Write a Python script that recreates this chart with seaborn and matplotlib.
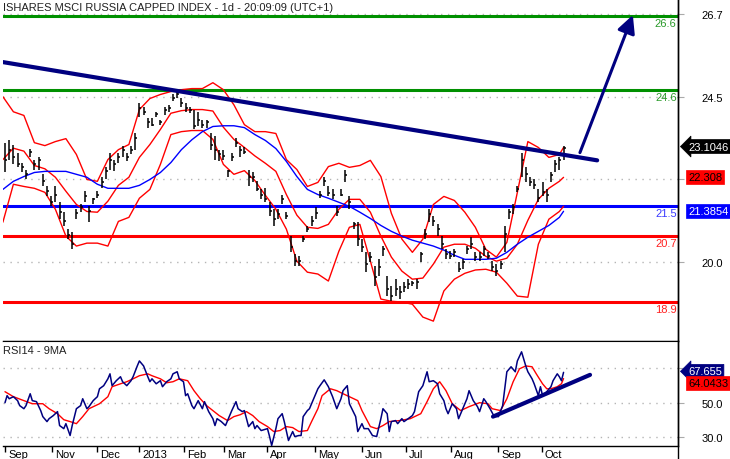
import numpy as np
import pandas as pd
import matplotlib
matplotlib.use("Agg")
import matplotlib.pyplot as plt
import matplotlib.transforms as mtransforms
from matplotlib.lines import Line2D
import seaborn as sns

# ---------------- data ----------------
title = "ISHARES MSCI RUSSIA CAPPED INDEX - 1d - 20:09:09 (UTC+1)"

bar_day = list(range(0, 268, 2))
bar_high = [23.25, 23.33, 23.20, 22.98, 22.71, 22.52, 23.09, 22.79, 22.85, 22.39,
            22.06, 21.79, 22.06, 21.63, 21.36, 20.90, 20.81, 21.44, 21.57, 21.93,
            21.52, 21.76, 21.93, 22.31, 22.60, 22.98, 22.79, 22.98, 23.15, 22.98,
            23.15, 23.52, 24.34, 24.23, 23.93, 23.93, 24.09, 23.88, 24.23, 24.28,
            24.56, 24.64, 24.47, 24.34, 24.23, 24.15, 24.09, 23.88, 23.88, 23.52,
            23.42, 23.06, 23.06, 22.52, 22.98, 23.39, 23.15, 23.12, 22.52, 22.44,
            22.20, 21.98, 22.03, 21.63, 21.44, 21.44, 21.84, 21.36, 20.71, 20.22,
            20.16, 20.71, 20.98, 21.25, 21.49, 21.93, 22.33, 22.06, 21.98, 21.52,
            21.98, 22.52, 21.79, 21.09, 21.09, 20.62, 20.27, 20.27, 19.89, 20.08,
            20.43, 19.62, 19.35, 19.54, 19.35, 19.46, 19.54, 19.49, 19.54, 20.27,
            20.90, 21.44, 21.25, 21.03, 20.71, 20.35, 20.30, 20.35, 20.00, 20.08,
            20.43, 20.68, 20.27, 20.27, 20.43, 20.27, 20.03, 19.95, 20.03, 20.98,
            21.44, 21.57, 22.06, 22.98, 22.60, 22.31, 22.25, 21.98, 22.17, 21.98,
            22.44, 22.79, 22.87, 23.15]
bar_low = [22.44, 22.79, 22.66, 22.58, 22.44, 22.25, 22.87, 22.52, 22.52, 22.06,
           21.79, 21.52, 21.63, 21.17, 20.98, 20.62, 20.35, 21.17, 21.36, 21.63,
           21.09, 21.57, 21.76, 22.03, 22.25, 22.52, 22.47, 22.71, 22.87, 22.74,
           22.93, 23.06, 23.96, 24.01, 23.66, 23.69, 23.96, 23.74, 24.01, 24.09,
           24.37, 24.47, 24.23, 24.09, 24.07, 23.61, 23.69, 23.66, 23.66, 23.06,
           22.79, 22.74, 22.79, 22.31, 22.74, 23.12, 22.87, 22.93, 22.06, 22.17,
           21.93, 21.71, 21.65, 21.25, 20.98, 21.17, 21.57, 21.17, 20.27, 19.89,
           19.89, 20.54, 20.81, 20.98, 21.17, 21.76, 22.06, 21.79, 21.71, 21.25,
           21.79, 22.17, 21.44, 20.90, 20.44, 20.27, 19.73, 20.00, 19.35, 19.62,
           20.16, 19.08, 18.94, 19.08, 19.00, 19.19, 19.27, 19.35, 19.27, 20.00,
           20.62, 21.09, 20.98, 20.71, 20.35, 20.08, 20.08, 20.14, 19.73, 19.81,
           20.22, 20.35, 20.03, 20.03, 20.16, 20.08, 19.76, 19.62, 19.81, 20.27,
           21.17, 21.30, 21.90, 22.33, 22.17, 22.06, 21.98, 21.63, 21.79, 21.65,
           22.17, 22.44, 22.52, 22.79]
bar_close = [22.79, 23.06, 22.85, 22.66, 22.58, 22.39, 23.01, 22.66, 22.79, 22.20,
             21.93, 21.63, 21.84, 21.36, 21.11, 20.73, 20.49, 21.33, 21.49, 21.79,
             21.38, 21.71, 21.84, 22.17, 22.47, 22.79, 22.66, 22.85, 23.06, 22.87,
             23.06, 23.39, 24.20, 24.09, 23.82, 23.74, 24.04, 23.82, 24.15, 24.20,
             24.47, 24.56, 24.34, 24.20, 24.15, 23.69, 23.88, 23.74, 23.82, 23.20,
             23.06, 22.93, 22.90, 22.47, 22.85, 23.25, 23.06, 23.01, 22.31, 22.31,
             21.98, 21.82, 21.71, 21.38, 21.17, 21.30, 21.71, 21.25, 20.41, 20.03,
             20.03, 20.62, 20.90, 21.11, 21.33, 21.84, 22.20, 21.87, 21.82, 21.36,
             21.84, 22.36, 21.63, 21.03, 20.62, 20.41, 19.95, 20.14, 19.60, 19.87,
             20.35, 19.27, 19.08, 19.27, 19.19, 19.33, 19.41, 19.43, 19.46, 20.22,
             20.76, 21.30, 21.11, 20.90, 20.49, 20.22, 20.16, 20.27, 19.81, 20.00,
             20.35, 20.49, 20.14, 20.14, 20.35, 20.16, 19.87, 19.76, 19.95, 20.76,
             21.36, 21.49, 21.98, 22.79, 22.39, 22.17, 22.11, 21.76, 21.90, 21.84,
             22.36, 22.66, 22.79, 23.1046]

band_day = list(range(-1, 265, 5)) + [266]
band_upper = [24.50, 24.09, 23.99, 23.25, 23.17, 23.28, 23.36, 22.93, 22.25, 22.20,
              22.79, 23.06, 23.20, 24.15, 24.45, 24.56, 24.64, 24.69, 24.72, 24.72,
              24.88, 24.69, 24.28, 23.74, 23.55, 23.55, 23.50, 22.79, 22.52, 22.06,
              22.17, 22.60, 22.69, 22.58, 22.63, 22.77, 22.33, 21.33, 20.63, 20.27,
              20.63, 21.57, 21.79, 21.68, 21.36, 20.95, 20.35, 20.14, 20.54, 21.90,
              23.28, 23.12, 22.85, 22.93, 23.12]
band_mid = [22.79, 23.10, 23.02, 22.63, 22.54, 22.31, 21.93, 21.57, 21.38, 21.36,
            21.66, 22.09, 22.31, 22.85, 23.20, 23.61, 24.05, 24.12, 24.15, 24.15,
            24.11, 23.67, 23.34, 23.12, 22.89, 22.69, 22.47, 21.84, 21.28, 20.95,
            20.92, 21.03, 21.44, 21.71, 21.71, 21.36, 20.71, 20.14, 19.76, 19.54,
            19.57, 19.95, 20.41, 20.49, 20.49, 20.38, 20.16, 20.03, 20.11, 20.49,
            21.14, 21.71, 22.01, 22.20, 22.308]
band_lower = [21.09, 22.12, 22.06, 22.01, 21.90, 21.44, 20.71, 20.44, 20.52, 20.52,
              20.44, 21.11, 21.22, 21.74, 21.98, 22.66, 23.47, 23.55, 23.58, 23.58,
              23.34, 22.66, 22.39, 22.49, 22.22, 21.82, 21.44, 20.90, 20.03, 19.73,
              19.68, 19.49, 20.30, 20.95, 21.03, 20.03, 19.00, 18.94, 18.92, 18.86,
              18.51, 18.40, 19.22, 19.54, 19.70, 19.79, 19.81, 19.73, 19.43, 19.08,
              19.05, 20.49, 21.17, 21.38, 21.52]
ma_blue = [21.98, 22.20, 22.33, 22.44, 22.47, 22.47, 22.47, 22.39, 22.31, 22.12,
           22.01, 22.01, 22.01, 22.09, 22.25, 22.44, 22.71, 23.06, 23.33, 23.55,
           23.69, 23.71, 23.71, 23.66, 23.47, 23.31, 23.09, 22.74, 22.33, 21.98,
           21.84, 21.74, 21.63, 21.52, 21.36, 21.19, 21.00, 20.84, 20.71, 20.60,
           20.52, 20.44, 20.33, 20.19, 20.08, 20.08, 20.08, 20.11, 20.27, 20.49,
           20.68, 20.84, 21.00, 21.22, 21.3854]

rsi_day = [0, 1, 2, 4, 6, 7, 9, 10, 12, 13, 15, 17, 18, 20, 21, 23, 25, 26, 28, 29,
           31, 32, 34, 36, 37, 39, 40, 42, 44, 45, 47, 49, 50, 51, 53, 55, 56, 58, 60, 61,
           63, 64, 66, 68, 69, 70, 72, 74, 75, 77, 79, 80, 82, 83, 85, 86, 87, 89, 90, 92,
           94, 95, 97, 99, 100, 101, 103, 105, 106, 108, 110, 111, 113, 114, 116, 118, 119, 120, 122, 125,
           126, 127, 129, 130, 132, 133, 135, 137, 138, 140, 141, 142, 144, 145, 147, 149, 150, 152, 154, 156,
           158, 160, 161, 163, 164, 167, 168, 170, 171, 173, 175, 177, 179, 180, 182, 183, 184, 186, 187, 189,
           190, 192, 194, 195, 197, 199, 200, 201, 202, 204, 206, 207, 209, 210, 211, 213, 215, 216, 218, 220,
           221, 223, 225, 226, 228, 229, 231, 233, 235, 237, 238, 239, 241, 243, 244, 246, 248, 249, 251, 252,
           254, 255, 256, 258, 260, 261, 263, 264, 265, 266]
rsi_val = [50.0, 54.1, 52.3, 53.5, 51.2, 48.3, 46.5, 48.3, 55.2, 51.2, 50.6, 45.4, 41.9, 39.0, 40.7, 42.5, 44.8, 36.7, 34.9, 37.8,
           30.9, 36.7, 46.5, 48.3, 52.3, 46.5, 47.7, 51.2, 53.5, 58.1, 59.9, 63.9, 66.8, 59.9, 62.8, 65.1, 62.2, 59.9, 62.8, 65.1,
           71.4, 74.3, 71.4, 65.1, 62.2, 63.9, 61.0, 62.8, 59.3, 62.2, 63.9, 66.8, 68.0, 63.9, 62.2, 54.1, 55.2, 48.3, 46.5, 51.2,
           46.5, 50.6, 44.8, 40.7, 36.7, 40.7, 39.0, 36.7, 39.6, 45.4, 50.6, 46.5, 44.8, 45.4, 36.1, 39.0, 34.9, 36.7, 33.8, 34.9,
           30.3, 25.1, 34.9, 40.7, 43.6, 39.0, 28.0, 33.2, 30.3, 30.9, 30.9, 41.9, 45.4, 46.5, 52.3, 58.1, 59.9, 63.3, 59.3, 53.5,
           46.5, 52.3, 57.0, 59.9, 49.4, 41.9, 33.2, 37.8, 34.9, 34.9, 30.9, 30.3, 40.7, 46.5, 43.6, 33.2, 39.0, 39.6, 37.8, 40.7,
           39.0, 40.7, 42.5, 44.8, 56.4, 59.9, 63.9, 68.0, 62.2, 62.8, 61.0, 55.2, 51.2, 46.5, 43.6, 49.4, 46.5, 40.7, 46.5, 52.3,
           57.0, 51.2, 47.7, 44.8, 52.3, 50.6, 46.5, 41.9, 41.9, 48.3, 58.1, 68.0, 70.9, 68.0, 74.3, 79.6, 71.4, 68.0, 63.9, 61.0,
           54.1, 59.3, 54.1, 56.4, 59.3, 62.8, 66.8, 65.1, 62.8, 67.655]

rsi_ma_day = [0, 4, 9, 13, 18, 21, 25, 28, 31, 34, 37, 40, 45, 49, 51, 55, 58, 61, 64, 68,
              70, 74, 77, 80, 83, 87, 90, 93, 96, 99, 102, 106, 109, 112, 115, 118, 121, 125, 128, 131,
              134, 137, 140, 144, 146, 149, 151, 155, 158, 161, 164, 168, 170, 174, 177, 180, 183, 188, 193, 198,
              201, 204, 207, 210, 213, 217, 221, 226, 230, 232, 236, 239, 242, 245, 248, 251, 253, 256, 258, 260,
              263, 265, 266]
rsi_ma_val = [56.4, 53.5, 51.2, 49.4, 49.4, 46.5, 43.6, 40.1, 39.0, 37.8, 41.9, 46.5, 49.4, 53.5, 59.3, 61.0, 62.2, 63.9, 65.7, 66.8,
              65.7, 63.9, 61.6, 62.2, 63.9, 62.8, 57.0, 52.3, 48.3, 45.4, 42.5, 39.6, 41.9, 43.0, 44.8, 42.5, 39.0, 36.1, 33.2, 33.8,
              36.1, 35.5, 33.2, 33.8, 39.0, 46.5, 54.1, 58.1, 57.0, 55.2, 53.5, 51.2, 45.4, 36.1, 34.9, 36.7, 39.0, 39.6, 40.7, 43.6,
              50.6, 58.1, 62.2, 57.0, 49.4, 45.4, 47.7, 50.0, 49.4, 46.5, 45.4, 52.3, 62.2, 69.7, 71.4, 70.9, 66.8, 61.0, 58.1, 58.1,
              59.3, 61.0, 64.0433]

trend_day = [-1, 282]
trend_price = [25.44, 22.77]
arrow_day = [273.8, 299.0]
arrow_price = [22.98, 26.72]
rsi_trend_day = [232.4, 278.6]
rsi_trend_val = [41.9, 66.2]

level_values = [26.69, 24.67, 21.52, 20.71, 18.92]
level_labels = ["26.6", "24.6", "21.5", "20.7", "18.9"]
level_colors = ["#009000", "#009000", "#0000ff", "#ff0000", "#ff0000"]
level_text_colors = ["#2a9a2a", "#2a9a2a", "#3a3aff", "#ff2020", "#ff2020"]

price_ticks = [20.0, 22.25, 24.5, 26.75]
price_tick_labels = ["20.0", "", "24.5", "26.7"]
rsi_ticks = [30, 50, 70]
rsi_tick_labels = ["30.0", "50.0", "70.0"]

month_day = [0, 22.4, 43.8, 63.8, 85.2, 104.3, 124.8, 147.6, 170.0, 191.0, 212.4, 234.8, 255.7]
month_label = ["Sep", "Nov", "Dec", "2013", "Feb", "Mar", "Apr", "May", "Jun", "Jul", "Aug", "Sep", "Oct"]

last_close = 23.1046
last_mid = 22.308
last_ma = 21.3854
last_rsi = 67.655
last_rsi_ma = 64.0433

# ---------------- style ----------------
sns.set_style("white")
plt.rcParams["font.family"] = ["Liberation Sans", "DejaVu Sans"]

W, H = 730, 460
def fx(px):
    return px / W
def fy(py):
    return 1 - py / H

fig = plt.figure(figsize=(7.3, 4.6), dpi=100)
ax = fig.add_axes([fx(3), fy(342), fx(678) - fx(3), fy(0) - fy(342)])
ax2 = fig.add_axes([fx(3), fy(447), fx(678) - fx(3), fy(342) - fy(447)])

xlim = (-0.95, 320.5)
for a in (ax, ax2):
    a.set_xlim(*xlim)
    a.set_facecolor("white")
    for s in ("left", "top"):
        a.spines[s].set_visible(False)
    for s in ("right", "bottom"):
        a.spines[s].set_color("black")
        a.spines[s].set_linewidth(1.0)
ax2.spines["top"].set_visible(True)
ax2.spines["top"].set_color("black")

ax.set_ylim(17.86, 27.155)
ax2.set_ylim(24.8, 85.9)

# grid
for a, ticks, labels in ((ax, price_ticks, price_tick_labels), (ax2, rsi_ticks, rsi_tick_labels)):
    a.yaxis.tick_right()
    a.set_yticks(ticks)
    a.set_yticklabels(labels)
    a.tick_params(axis="y", right=True, left=False, labelright=True, labelleft=False,
                  length=4, color="#aaaaaa", pad=13, labelsize=8, labelcolor="black")
    a.yaxis.grid(True, color="#b5b5b5", linestyle=(0, (1, 4)), linewidth=1)
    a.xaxis.grid(False)
    a.set_axisbelow(True)
    a.set_xlabel("")
    a.set_ylabel("")

ax.tick_params(axis="x", bottom=False, labelbottom=False)

# levels
lvl_trans = mtransforms.blended_transform_factory(ax.transAxes, ax.transData)
for v, lab, c, tc in zip(level_values, level_labels, level_colors, level_text_colors):
    ax.axhline(v, color=c, lw=2.2, zorder=2)
    ax.text(0.998, v, lab, transform=lvl_trans + mtransforms.ScaledTranslation(0, -0.02, fig.dpi_scale_trans),
            ha="right", va="top", fontsize=8, color=tc, zorder=6)

# Bollinger bands and MA
sns.lineplot(x=band_day, y=band_upper, ax=ax, color="#ff0000", lw=1.0, errorbar=None, zorder=3)
sns.lineplot(x=band_day, y=band_mid, ax=ax, color="#ff0000", lw=1.0, errorbar=None, zorder=3)
sns.lineplot(x=band_day, y=band_lower, ax=ax, color="#ff0000", lw=1.0, errorbar=None, zorder=3)
sns.lineplot(x=band_day, y=ma_blue, ax=ax, color="#0000ff", lw=1.0, errorbar=None, zorder=3)

# price bars
bd = np.array(bar_day, dtype=float)
ax.vlines(bd, bar_low, bar_high, color="black", lw=1.1, zorder=4)
ax.hlines(bar_close, bd, bd + 1.0, color="black", lw=1.1, zorder=4)

# trend line and arrow
sns.lineplot(x=trend_day, y=trend_price, ax=ax, color="#000080", lw=3.0, errorbar=None, zorder=5)
ax.annotate("", xy=(arrow_day[1], arrow_price[1]), xytext=(arrow_day[0], arrow_price[0]),
            arrowprops=dict(arrowstyle="-|>,head_length=0.9,head_width=0.45", color="#000080",
                            lw=2.2, mutation_scale=12, shrinkA=0, shrinkB=0), zorder=5)

# RSI
sns.lineplot(x=rsi_ma_day, y=rsi_ma_val, ax=ax2, color="#ff0000", lw=1.0, errorbar=None, zorder=3)
sns.lineplot(x=rsi_day, y=rsi_val, ax=ax2, color="#000080", lw=1.1, errorbar=None, zorder=4)
sns.lineplot(x=rsi_trend_day, y=rsi_trend_val, ax=ax2, color="#000080", lw=3.0, errorbar=None, zorder=5)
for a in (ax, ax2):
    a.set_xlabel("")
    a.set_ylabel("")
    a.set_xlim(*xlim)

# x axis months
ax2.set_xticks(month_day)
ax2.set_xticklabels(month_label)
ax2.tick_params(axis="x", bottom=True, length=4, width=1, color="black", direction="out",
                pad=-2, labelsize=8, labelcolor="black")
off = mtransforms.ScaledTranslation(0.03, 0, fig.dpi_scale_trans)
for lab in ax2.get_xticklabels():
    lab.set_horizontalalignment("left")
    lab.set_transform(lab.get_transform() + off)

# value boxes
def value_box(a, value, text, fc, tc, arrow, dy_px=0.0):
    tr = mtransforms.blended_transform_factory(fig.transFigure, a.transData) + \
        mtransforms.ScaledTranslation(0, dy_px / 100.0, fig.dpi_scale_trans)
    style = "larrow,pad=0.18" if arrow else "square,pad=0.18"
    a.text(fx(688), value, text, transform=tr, ha="left", va="center", fontsize=8,
           color=tc, clip_on=False, zorder=10,
           bbox=dict(boxstyle=style, fc=fc, ec=fc, lw=0.5))

value_box(ax, last_close, "23.1046", "#000000", "white", True, 1.5)
value_box(ax, last_mid, "22.308", "#ff0000", "black", False)
value_box(ax, last_ma, "21.3854", "#0000ff", "white", False)
value_box(ax2, last_rsi, "67.655", "#000080", "white", True, 1)
value_box(ax2, last_rsi_ma, "64.0433", "#ff0000", "black", False, -4)

# texts
fig.text(fx(3), fy(8), title, ha="left", va="center", fontsize=8, color="#222222")
fig.text(fx(3), fy(351), "RSI14 - 9MA", ha="left", va="center", fontsize=8, color="#222222")

# full-height right border
fig.add_artist(Line2D([fx(678), fx(678)], [0, 1], color="black", lw=1.0, transform=fig.transFigure))

fig.savefig("out.png", dpi=100, facecolor="white")
